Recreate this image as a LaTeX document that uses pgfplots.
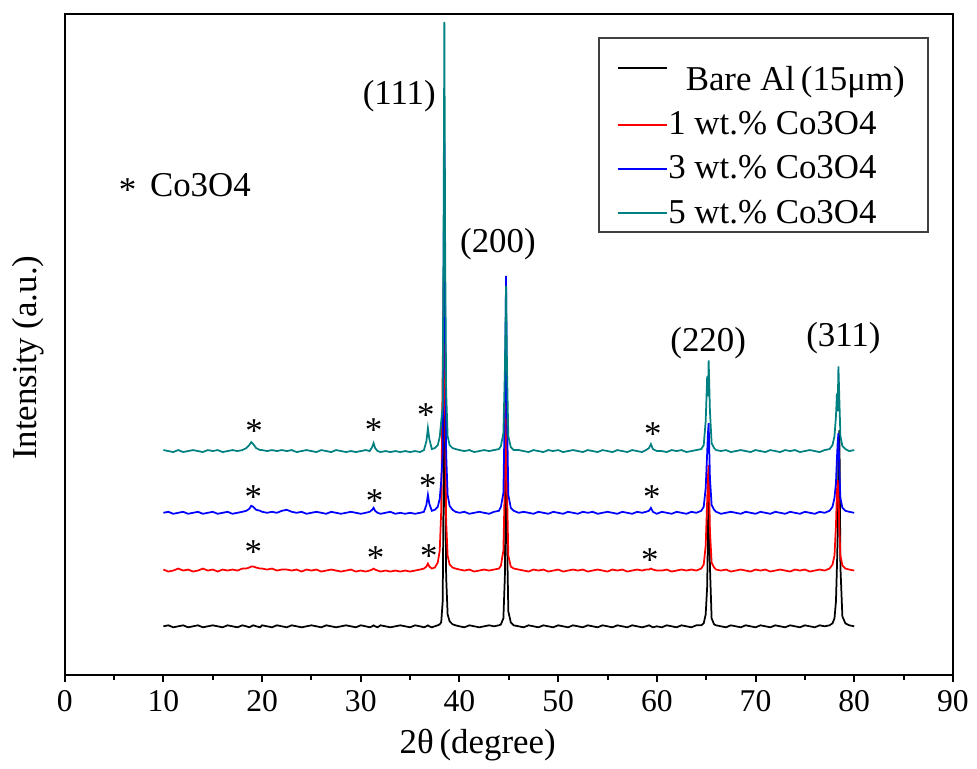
\documentclass[border=0pt]{standalone}
\usepackage{fontspec}
\setmainfont{Liberation Serif}
\usepackage{pgfplots}
\usepackage{pgfplotstable}
\pgfplotsset{compat=1.18}
\definecolor{cteal}{HTML}{008080}
\definecolor{lgdraw}{HTML}{404040}

% heights above each pattern's own baseline: k=bare Al, r=1wt%, b=3wt%, t=5wt%
\pgfplotstableread{
x k r b t
10.0 0 1 0 1
10.5 1 -1 1 0
11.0 -1 0 -1 -1
11.5 0 2 0 1
12.0 1 0 1 -1
12.5 -1 1 -1 0
13.0 0 -1 0 1
13.5 1 0 1 0
14.0 -1 2 -1 -1
14.5 0 0 0 1
15.0 1 1 1 0
15.5 0 -1 -1 1
16.0 -1 1 0 -1
16.5 1 0 1 0
17.0 0 1 -1 1
17.5 -1 0 0 0
18.0 1 2 1 1
18.4 0 2 2 3
18.7 -1 3 4 6
18.9 0 4 7 9
19.1 1 4 6 7
19.4 0 3 3 3
19.8 -1 2 2 1
20.0 1 2 1 1
20.5 0 1 0 0
21.0 -1 2 1 1
21.5 1 0 0 0
22.0 0 1 2 1
22.5 -1 1 3 0
23.0 1 0 1 1
23.5 0 1 0 -1
24.0 -1 -1 1 0
24.5 0 1 -1 1
25.0 1 0 0 0
25.5 0 1 1 -1
26.0 -1 -1 0 1
26.5 1 0 -1 0
27.0 0 1 1 -1
27.5 -1 0 0 1
28.0 0 -1 -1 0
28.5 1 0 0 -1
29.0 0 1 1 0
29.5 -1 -1 0 -1
30.0 1 0 -1 0
30.5 0 -1 0 1
30.9 -1 0 1 0
31.15 0 1 3 4
31.3 1 2 5 8
31.45 0 1 2 3
31.7 -1 0 0 0
32.0 1 -1 -1 -1
32.5 0 0 0 0
33.0 -1 -1 1 -1
33.5 0 0 -1 0
34.0 1 -1 0 -1
34.5 0 0 -1 0
35.0 -1 -1 0 -1
35.5 1 0 -1 0
36.0 0 1 0 -1
36.4 -1 2 1 1
36.65 0 4 8 10
36.8 1 7 18 23
36.95 0 4 9 12
37.2 -1 2 2 2
37.5 0 3 3 3
37.8 1 8 6 6
38.0 2 20 14 14
38.15 4 60 32 30
38.3 25 200 60 45
38.4 150 290 250 250
38.47 429 270 372 431
38.55 180 150 200 200
38.65 50 50 60 60
38.8 12 15 18 15
39.0 5 6 7 6
39.3 2 3 3 3
39.6 1 2 1 2
40.0 0 1 0 1
40.5 -1 0 1 0
41.0 1 1 -1 1
41.5 0 -1 0 -1
42.0 -1 0 1 0
42.5 0 1 0 1
43.0 1 0 -1 0
43.5 0 1 1 1
44.0 1 2 2 2
44.2 2 5 6 5
44.45 8 20 20 18
44.6 50 90 110 80
44.72 200 175 238 166
44.82 90 80 100 80
44.95 15 15 18 15
45.2 4 4 5 4
45.5 1 2 2 1
46.0 0 1 0 1
46.5 -1 0 1 0
47.0 1 -1 0 -1
47.5 0 1 -1 1
48.0 -1 0 1 0
48.5 1 1 0 -1
49.0 0 -1 -1 1
49.5 -1 0 1 0
50.0 1 1 0 1
50.5 0 -1 -1 -1
51.0 -1 0 1 0
51.5 1 1 0 1
52.0 0 0 -1 0
52.5 -1 1 1 -1
53.0 1 -1 0 1
53.5 0 0 1 0
54.0 -1 1 -1 -1
54.5 1 0 0 1
55.0 0 -1 1 0
55.5 -1 1 0 -1
56.0 1 0 -1 1
56.5 0 1 1 0
57.0 -1 -1 0 -1
57.5 1 0 -1 1
58.0 0 1 1 0
58.5 -1 0 0 -1
58.9 0 1 1 1
59.2 1 1 2 3
59.4 0 2 5 7
59.6 -1 1 1 2
60.0 0 0 -1 0
60.5 -1 0 1 0
61.0 1 1 0 -1
61.5 0 -1 -1 1
62.0 -1 0 1 0
62.5 1 1 0 1
63.0 0 0 -1 -1
63.5 -1 1 1 0
64.0 1 0 0 1
64.5 1 2 2 2
64.75 3 6 6 6
64.95 12 25 25 30
65.1 40 70 60 75
65.18 95 95 80 55
65.25 150 106 90 91
65.38 60 40 35 40
65.55 8 8 8 8
65.8 2 3 3 3
66.0 1 1 1 1
66.5 0 0 -1 0
67.0 -1 1 0 1
67.5 1 -1 1 -1
68.0 0 0 0 0
68.5 -1 1 -1 1
69.0 1 0 1 0
69.5 0 -1 0 -1
70.0 -1 1 -1 1
70.5 1 0 1 0
71.0 0 1 0 -1
71.5 -1 -1 -1 1
72.0 1 0 1 0
72.5 0 1 0 -1
73.0 -1 0 -1 1
73.5 1 -1 1 0
74.0 0 1 0 1
74.5 -1 0 -1 -1
75.0 1 1 1 0
75.5 0 -1 0 1
76.0 -1 0 -1 0
76.5 1 1 1 -1
77.0 0 0 0 1
77.5 1 2 2 2
77.8 3 6 6 6
78.0 8 15 15 15
78.15 25 45 30 35
78.25 60 80 55 58
78.32 90 91 70 40
78.4 180 80 80 85
78.5 197 40 40 50
78.6 60 15 15 15
78.8 10 5 5 5
79.1 3 2 2 2
79.5 1 1 1 0
80.0 0 0 0 1
}\xrd

\newcommand{\lbfont}{\fontsize{14}{16.8}\selectfont}

\begin{document}
\begin{tikzpicture}
\begin{axis}[
  scale only axis, width=356.8pt, height=265.6pt,
  xmin=0, xmax=90, ymin=0, ymax=664,
  xtick={0,10,...,90}, minor x tick num=1, xtick pos=bottom,
  ytick=\empty,
  tick align=outside, major tick length=2.8pt, minor tick length=2pt,
  axis line style={line width=0.8pt}, every tick/.style={black, line width=0.8pt},
  /pgf/number format/assume math mode=true,
  xticklabel style={font=\fontsize{12.7}{14}\selectfont},
  xlabel={2θ\,(degree)}, ylabel={Intensity (a.u.)},
  label style={font=\lbfont},
  xlabel style={at={(axis description cs:0.465,0)}, anchor=north, yshift=-18pt},
  ylabel style={at={(axis description cs:0,0.48)}, anchor=south, inner sep=0pt, yshift=8pt},
  clip=false,
  legend cell align=left,
  legend image code/.code={\draw[#1, line width=0.8pt] (0pt,0pt) -- (20pt,0pt);},
  legend style={at={(0.973,0.965)}, anchor=north east, draw=lgdraw, line width=0.6pt,
    font=\lbfont, inner xsep=7pt, inner ysep=0pt, row sep=3pt,
    nodes={inner xsep=0pt}},
]
\addplot[black, line width=0.7pt] table[x=x, y expr=\thisrow{k}+49] {\xrd};
\addplot[red, line width=0.7pt] table[x=x, y expr=\thisrow{r}+105] {\xrd};
\addplot[blue, line width=0.7pt] table[x=x, y expr=\thisrow{b}+163] {\xrd};
\addplot[cteal, line width=0.7pt] table[x=x, y expr=\thisrow{t}+225] {\xrd};
\legend{\rule{0pt}{19pt}\hspace{7pt}Bare Al\,(15μm)\rule{2.4pt}{0pt}, 1 wt.\% Co3O4, 3 wt.\% Co3O4, 5 wt.\% Co3O4}

\begin{scope}[every node/.style={font=\lbfont}]
\node at (axis cs:33.9,581) {(111)};
\node at (axis cs:43.9,433) {(200)};
\node at (axis cs:65.2,333) {(220)};
\node at (axis cs:78.9,338) {(311)};
\node[anchor=west] at (axis cs:4.6,490) {\raisebox{-2pt}{*}\hspace{2pt} Co3O4};
\end{scope}
\begin{scope}[every node/.style={font=\lbfont, yshift=-2pt}]
% teal
\node at (axis cs:19.2,250) {*};
\node at (axis cs:31.3,251) {*};
\node at (axis cs:36.6,266) {*};
\node at (axis cs:59.6,247) {*};
% blue
\node at (axis cs:19.1,184) {*};
\node at (axis cs:31.4,180) {*};
\node at (axis cs:36.8,195) {*};
\node at (axis cs:59.5,184) {*};
% red
\node at (axis cs:19.1,129) {*};
\node at (axis cs:31.5,123) {*};
\node at (axis cs:36.9,125) {*};
\node at (axis cs:59.3,121) {*};
\end{scope}
\end{axis}
\path (current axis.south west) ++(-26pt,-35.2pt);
\path (current axis.north east) ++(8pt,5.6pt);
\end{tikzpicture}
\end{document}
